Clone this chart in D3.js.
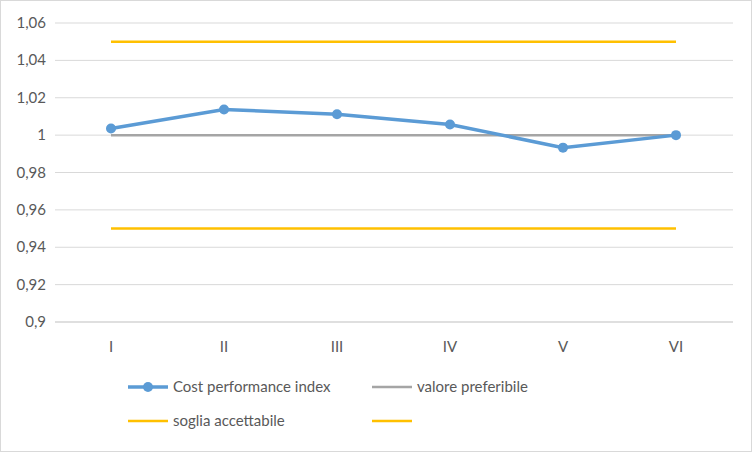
<!DOCTYPE html>
<html><head><meta charset="utf-8">
<script src="https://cdn.jsdelivr.net/npm/d3@7"></script>
<style>body{margin:0;background:#fff}svg{display:block}text{font-family:Lato,"Liberation Sans",sans-serif}</style>
</head><body><svg id="c" width="752" height="452"></svg>
<script>
const categories=["I","II","III","IV","V","VI"];
const cpi=[1.0035,1.0137,1.0112,1.0057,0.9933,1.0];
const preferred=[1,1,1,1,1,1];
const upper=[1.05,1.05,1.05,1.05,1.05,1.05];
const lower=[0.95,0.95,0.95,0.95,0.95,0.95];
const yTicks=[0.9,0.92,0.94,0.96,0.98,1,1.02,1.04,1.06];
const svg=d3.select("#c");
svg.append("rect").attr("x",0.5).attr("y",0.5).attr("width",751).attr("height",451).attr("fill","#fff").attr("stroke","#d9d9d9");
const x=d3.scalePoint().domain(categories).range([111,676]);
const y=d3.scaleLinear().domain([0.9,1.06]).range([322,23]);
const fmt=d=>String(+d.toFixed(2)).replace(".",",");
yTicks.forEach(t=>{
  svg.append("line").attr("x1",55).attr("x2",733).attr("y1",y(t)).attr("y2",y(t)).attr("stroke",t===0.9?"#bfbfbf":"#d9d9d9");
  svg.append("text").attr("x",46).attr("y",y(t)+5).attr("text-anchor","end").attr("font-size",15).attr("fill","#595959").text(fmt(t));
});
categories.forEach(c=>svg.append("text").attr("x",x(c)).attr("y",352).attr("text-anchor","middle").attr("font-size",15).attr("fill","#595959").text(c));
const line=d3.line().x((d,i)=>x(categories[i])).y(d=>y(d));
svg.append("path").attr("d",line(upper)).attr("stroke","#ffc000").attr("stroke-width",2.5).attr("fill","none");
svg.append("path").attr("d",line(lower)).attr("stroke","#ffc000").attr("stroke-width",2.5).attr("fill","none");
svg.append("path").attr("d",line(preferred)).attr("stroke","#a5a5a5").attr("stroke-width",2.5).attr("fill","none");
svg.append("path").attr("d",line(cpi)).attr("stroke","#5b9bd5").attr("stroke-width",3.5).attr("fill","none");
cpi.forEach((v,i)=>svg.append("circle").attr("cx",x(categories[i])).attr("cy",y(v)).attr("r",5).attr("fill","#5b9bd5"));
const lg=[{t:"Cost performance index",c:"#5b9bd5",m:true,x:128,y:387,w:3.5},{t:"valore preferibile",c:"#a5a5a5",x:372,y:387,w:2.5},{t:"soglia accettabile",c:"#ffc000",x:128,y:421,w:2.5},{t:"",c:"#ffc000",x:372,y:421,w:2.5}];
lg.forEach(l=>{
  svg.append("line").attr("x1",l.x).attr("x2",l.x+40).attr("y1",l.y).attr("y2",l.y).attr("stroke",l.c).attr("stroke-width",l.w);
  if(l.m)svg.append("circle").attr("cx",l.x+20).attr("cy",l.y).attr("r",5).attr("fill",l.c);
  svg.append("text").attr("x",l.x+45).attr("y",l.y+5).attr("font-size",15).attr("fill","#595959").text(l.t);
});
</script></body></html>
